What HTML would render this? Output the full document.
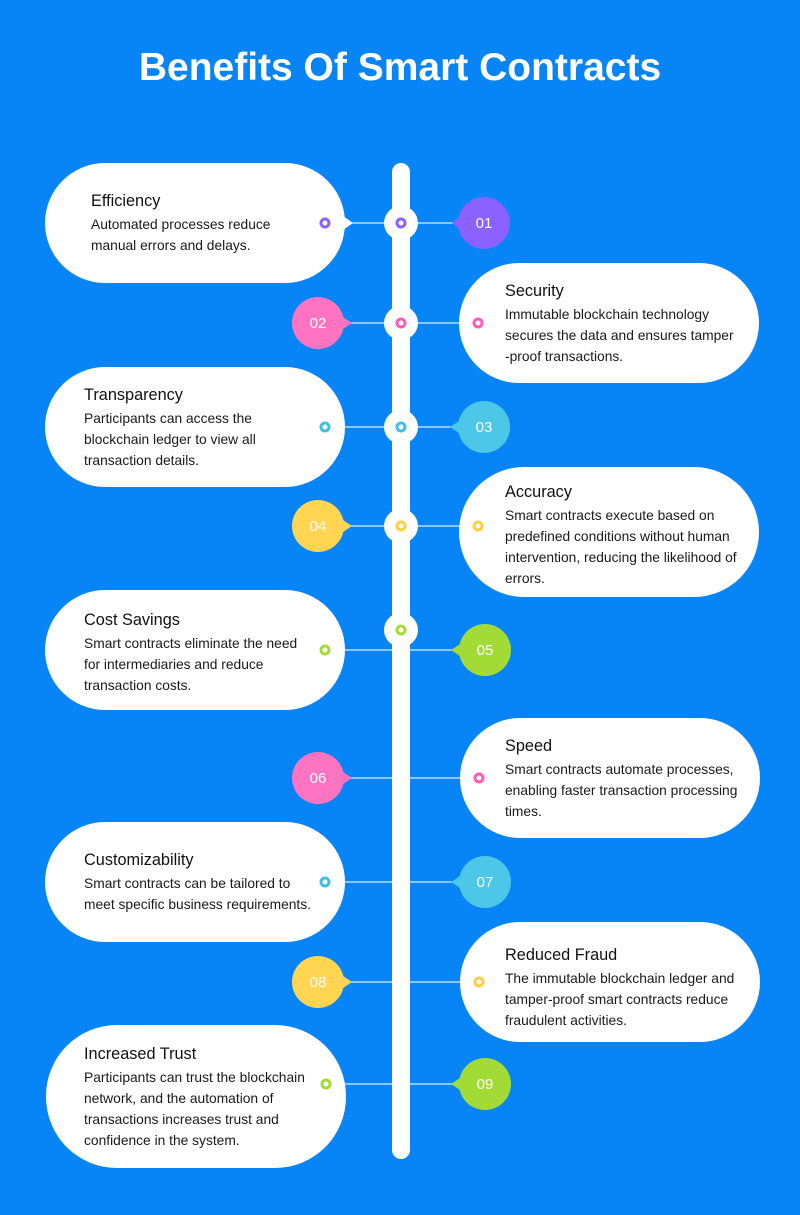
<!DOCTYPE html>
<html><head><meta charset="utf-8"><style>
html,body{margin:0;padding:0;background:#0784f5;}
svg{display:block}
text{font-family:"Liberation Sans",sans-serif}
.t{font-size:16.3px;fill:#111;}
.b{font-size:13.8px;fill:#1a1a1a;}
.n{font-size:15px;fill:#fff;text-anchor:middle}
</style></head><body>
<svg width="800" height="1215" viewBox="0 0 800 1215" xmlns="http://www.w3.org/2000/svg">
<rect width="800" height="1215" fill="#0784f5"/>
<text x="400" y="80" text-anchor="middle" style="font-size:39px;font-weight:bold;fill:#fff">Benefits Of Smart Contracts</text>
<g stroke="#fff" stroke-opacity="0.85" stroke-width="1.3">
<line x1="345" y1="223" x2="460" y2="223"/>
<line x1="345" y1="323" x2="460" y2="323"/>
<line x1="345" y1="427" x2="460" y2="427"/>
<line x1="345" y1="526" x2="460" y2="526"/>
<line x1="345" y1="650" x2="460" y2="650"/>
<line x1="345" y1="778" x2="460" y2="778"/>
<line x1="345" y1="882" x2="460" y2="882"/>
<line x1="345" y1="982" x2="460" y2="982"/>
<line x1="345" y1="1084" x2="460" y2="1084"/>
</g>
<rect x="392" y="163" width="18" height="996" rx="9" fill="#fff"/>
<g fill="#fff">
<circle cx="401" cy="223" r="17"/><circle cx="401" cy="323" r="17"/><circle cx="401" cy="427" r="17"/><circle cx="401" cy="526" r="17"/><circle cx="401" cy="630" r="17"/>
<rect x="45" y="163" width="300" height="120" rx="60"/><polygon points="343,216 353,223 343,230"/>
<rect x="459" y="263" width="300" height="120" rx="60"/>
<rect x="45" y="367" width="300" height="120" rx="60"/>
<rect x="459" y="467" width="300" height="130" rx="65"/>
<rect x="45" y="590" width="300" height="120" rx="60"/>
<rect x="460" y="718" width="300" height="120" rx="60"/>
<rect x="45" y="822" width="300" height="120" rx="60"/>
<rect x="460" y="922" width="300" height="120" rx="60"/>
<rect x="46" y="1025" width="300" height="143" rx="71"/>
</g>
<g>
<circle cx="484" cy="223" r="26" fill="#8b62ff"/><polygon points="462,215 452,223 462,231" fill="#8b62ff"/>
<circle cx="318" cy="323" r="26" fill="#ff74c2"/><polygon points="340,315 352,323 340,331" fill="#ff74c2"/>
<circle cx="484" cy="427" r="26" fill="#4cc7e8"/><polygon points="462,419 450,427 462,435" fill="#4cc7e8"/>
<circle cx="318" cy="526" r="26" fill="#ffd552"/><polygon points="340,518 352,526 340,534" fill="#ffd552"/>
<circle cx="485" cy="650" r="26" fill="#a3db36"/><polygon points="463,642 451,650 463,658" fill="#a3db36"/>
<circle cx="318" cy="778" r="26" fill="#ff74c2"/><polygon points="340,770 352,778 340,786" fill="#ff74c2"/>
<circle cx="485" cy="882" r="26" fill="#4cc7e8"/><polygon points="463,874 451,882 463,890" fill="#4cc7e8"/>
<circle cx="318" cy="982" r="26" fill="#ffd552"/><polygon points="340,974 352,982 340,990" fill="#ffd552"/>
<circle cx="485" cy="1084" r="26" fill="#a3db36"/><polygon points="463,1076 451,1084 463,1092" fill="#a3db36"/>
</g>
<text class="n" x="484" y="228">01</text><text class="n" x="318" y="328">02</text><text class="n" x="484" y="432">03</text>
<text class="n" x="318" y="531">04</text><text class="n" x="485" y="655">05</text><text class="n" x="318" y="783">06</text>
<text class="n" x="485" y="887">07</text><text class="n" x="318" y="987">08</text><text class="n" x="485" y="1089">09</text>
<g fill="none" stroke-width="3">
<circle cx="325" cy="223" r="4" stroke="#8b62ff"/><circle cx="401" cy="223" r="4" stroke="#8b62ff"/>
<circle cx="478" cy="323" r="4" stroke="#ff5cb8"/><circle cx="401" cy="323" r="4" stroke="#ff5cb8"/>
<circle cx="325" cy="427" r="4" stroke="#3cc0e6"/><circle cx="401" cy="427" r="4" stroke="#3cc0e6"/>
<circle cx="478" cy="526" r="4" stroke="#ffcf3f"/><circle cx="401" cy="526" r="4" stroke="#ffcf3f"/>
<circle cx="325" cy="650" r="4" stroke="#a3db36"/><circle cx="401" cy="630" r="4" stroke="#a3db36"/>
<circle cx="479" cy="778" r="4" stroke="#ff5cb8"/>
<circle cx="325" cy="882" r="4" stroke="#3cc0e6"/>
<circle cx="479" cy="982" r="4" stroke="#ffcf3f"/>
<circle cx="326" cy="1084" r="4" stroke="#a3db36"/>
</g>
<text class="t" x="91" y="206">Efficiency</text>
<text class="b" x="91" y="229">Automated processes reduce</text>
<text class="b" x="91" y="250">manual errors and delays.</text>

<text class="t" x="505" y="296">Security</text>
<text class="b" x="505" y="319">Immutable blockchain technology</text>
<text class="b" x="505" y="340">secures the data and ensures tamper</text>
<text class="b" x="505" y="361">-proof transactions.</text>

<text class="t" x="84" y="400">Transparency</text>
<text class="b" x="84" y="423">Participants can access the</text>
<text class="b" x="84" y="444">blockchain ledger to view all</text>
<text class="b" x="84" y="465">transaction details.</text>

<text class="t" x="505" y="497">Accuracy</text>
<text class="b" x="505" y="520">Smart contracts execute based on</text>
<text class="b" x="505" y="541">predefined conditions without human</text>
<text class="b" x="505" y="562">intervention, reducing the likelihood of</text>
<text class="b" x="505" y="583">errors.</text>

<text class="t" x="84" y="625">Cost Savings</text>
<text class="b" x="84" y="648">Smart contracts eliminate the need</text>
<text class="b" x="84" y="669">for intermediaries and reduce</text>
<text class="b" x="84" y="690">transaction costs.</text>

<text class="t" x="505" y="751">Speed</text>
<text class="b" x="505" y="774">Smart contracts automate processes,</text>
<text class="b" x="505" y="795">enabling faster transaction processing</text>
<text class="b" x="505" y="816">times.</text>

<text class="t" x="84" y="865">Customizability</text>
<text class="b" x="84" y="888">Smart contracts can be tailored to</text>
<text class="b" x="84" y="909">meet specific business requirements.</text>

<text class="t" x="505" y="960">Reduced Fraud</text>
<text class="b" x="505" y="983">The immutable blockchain ledger and</text>
<text class="b" x="505" y="1004">tamper-proof smart contracts reduce</text>
<text class="b" x="505" y="1025">fraudulent activities.</text>

<text class="t" x="84" y="1059">Increased Trust</text>
<text class="b" x="84" y="1082">Participants can trust the blockchain</text>
<text class="b" x="84" y="1103">network, and the automation of</text>
<text class="b" x="84" y="1124">transactions increases trust and</text>
<text class="b" x="84" y="1145">confidence in the system.</text>
</svg>
</body></html>
